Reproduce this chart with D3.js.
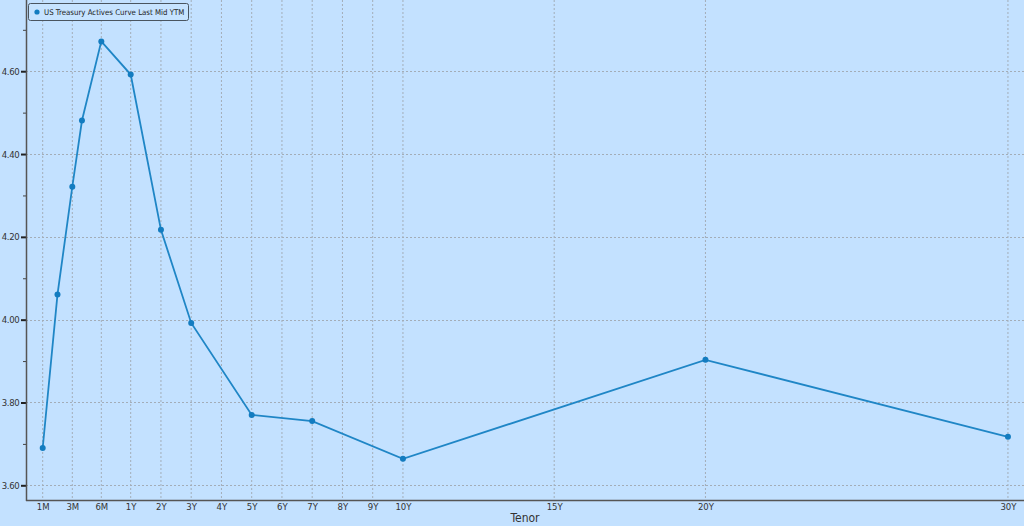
<!DOCTYPE html>
<html><head><meta charset="utf-8">
<script src="https://cdn.jsdelivr.net/npm/d3@7"></script>
<style>
html,body{margin:0;padding:0;background:#c3e1ff;}
svg{display:block;font-family:"DejaVu Sans Condensed","DejaVu Sans",sans-serif;}
</style></head><body>
<svg id="chart" width="1024" height="526"></svg>
<script>
// Data
const tenorLabels = ["1M","2M","3M","4M","6M","1Y","2Y","3Y","5Y","7Y","10Y","20Y","30Y"];
const tenorYears  = [1/12, 2/12, 3/12, 4/12, 0.5, 1, 2, 3, 5, 7, 10, 20, 30];
const ytmValues   = [3.690, 4.061, 4.321, 4.481, 4.672, 4.592, 4.217, 3.992, 3.770, 3.755, 3.664, 3.903, 3.717];
const xTickLabels = ["1M","3M","6M","1Y","2Y","3Y","4Y","5Y","6Y","7Y","8Y","9Y","10Y","15Y","20Y","30Y"];
const xTickYears  = [1/12, 0.25, 0.5, 1, 2, 3, 4, 5, 6, 7, 8, 9, 10, 15, 20, 30];
const yMajorTicks = [3.60, 3.80, 4.00, 4.20, 4.40, 4.60];
const yMinorTicks = [3.70, 3.90, 4.10, 4.30, 4.50, 4.70];
const seriesName = "US Treasury Actives Curve Last Mid YTM";
const xTitle = "Tenor";

const W = 1024, H = 526;
const mLeft = 26, mBottom = 500, mTop = 0, mRight = 1024;
const svg = d3.select("#chart");
const bg = "#c3e1ff", lineCol = "#1f86c6", gridCol = "#a3adb8", axisCol = "#555";
const font = '"DejaVu Sans Condensed","DejaVu Sans",sans-serif';

svg.append("rect").attr("width", W).attr("height", H).attr("fill", bg);

// Scales
const x1Y = 130.7, step = 30.25;
const x = d3.scaleLinear()
  .domain([1/12, 0.25, 0.5, 1, 30])
  .range([x1Y - 88, x1Y - 58.4, x1Y - 29.4, x1Y, x1Y + 29 * step]);
const y = d3.scaleLinear().domain([3.5645, 4.772]).range([mBottom, mTop]);

// Grid
const g = svg.append("g");
g.selectAll(".vg").data(xTickYears).enter().append("line")
  .attr("x1", d => x(d)).attr("x2", d => x(d))
  .attr("y1", mTop).attr("y2", mBottom)
  .attr("stroke", gridCol).attr("stroke-width", 1).attr("stroke-dasharray", "2,2");
g.selectAll(".hg").data(yMajorTicks).enter().append("line")
  .attr("x1", mLeft).attr("x2", mRight)
  .attr("y1", d => Math.round(y(d)) + 0.5).attr("y2", d => Math.round(y(d)) + 0.5)
  .attr("stroke", gridCol).attr("stroke-width", 1).attr("stroke-dasharray", "2,2");

// Y axis
const yAxis = d3.axisLeft(y).tickValues(yMajorTicks).tickFormat(d3.format(".2f")).tickSize(5).tickPadding(1.5);
const ya = svg.append("g").attr("transform", `translate(${mLeft},0)`).call(yAxis);
ya.select(".domain").remove();
ya.selectAll(".tick line").attr("stroke", "#222").attr("stroke-width", 2);
ya.selectAll(".tick text").attr("fill", "#333").style("font-size", "9.5px").style("letter-spacing", "-0.3px").style("font-family", font);
const yMinor = d3.axisLeft(y).tickValues(yMinorTicks).tickFormat("").tickSize(3);
const ym = svg.append("g").attr("transform", `translate(${mLeft},0)`).call(yMinor);
ym.select(".domain").remove();
ym.selectAll(".tick line").attr("stroke", "#444").attr("stroke-width", 1);

// X axis
const xAxis = d3.axisBottom(x).tickValues(xTickYears).tickFormat((d, i) => xTickLabels[i]).tickSize(0).tickPadding(3.5);
const xa = svg.append("g").attr("transform", `translate(0,${mBottom})`).call(xAxis);
xa.select(".domain").remove();
xa.selectAll(".tick text").attr("fill", "#333").style("font-size", "9.5px").style("font-family", font);

// Axis lines
svg.append("line").attr("x1", mLeft + 0.5).attr("x2", mLeft + 0.5).attr("y1", mTop).attr("y2", mBottom + 1)
  .attr("stroke", axisCol).attr("stroke-width", 1.5);
svg.append("line").attr("x1", mLeft).attr("x2", mRight).attr("y1", mBottom + 0.5).attr("y2", mBottom + 0.5)
  .attr("stroke", axisCol).attr("stroke-width", 1.5);

// X title
svg.append("text").attr("x", 525).attr("y", 522).attr("text-anchor", "middle")
  .attr("fill", "#333").style("font-size", "12px").style("font-family", font).text(xTitle);

// Line
const data = tenorYears.map((t, i) => ({t, v: ytmValues[i], label: tenorLabels[i]}));
svg.append("path").datum(data)
  .attr("d", d3.line().x(d => x(d.t)).y(d => y(d.v)))
  .attr("fill", "none").attr("stroke", lineCol).attr("stroke-width", 1.8);
svg.selectAll(".pt").data(data).enter().append("circle")
  .attr("cx", d => x(d.t)).attr("cy", d => y(d.v)).attr("r", 3).attr("fill", "#137cc0");

// Legend
const lg = svg.append("g");
lg.append("rect").attr("x", 28.5).attr("y", 3.5).attr("width", 160).attr("height", 17).attr("rx", 2)
  .attr("fill", "#c6e3ff").attr("stroke", "#4a5560").attr("stroke-width", 1);
lg.append("circle").attr("cx", 37).attr("cy", 12).attr("r", 2.6).attr("fill", "#137cc0");
lg.append("text").attr("x", 44).attr("y", 14.8).attr("fill", "#222").style("font-size", "7.8px").style("font-family", font).text(seriesName);
</script>
</body></html>
